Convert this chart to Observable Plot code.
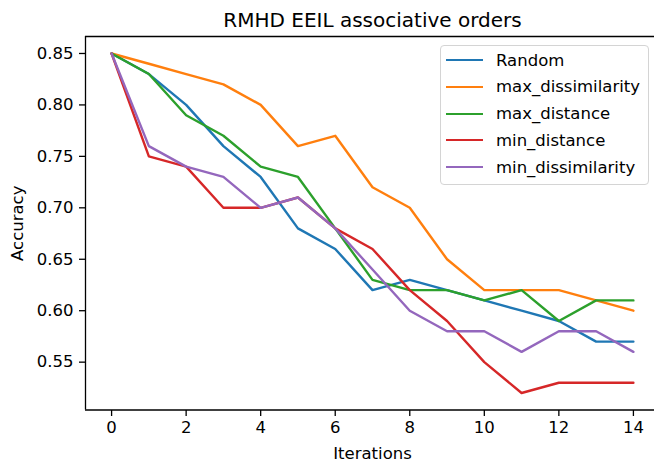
<!DOCTYPE html>
<html>
<head>
<meta charset="utf-8">
<script src="https://cdn.jsdelivr.net/npm/d3@7"></script>
<script src="https://cdn.jsdelivr.net/npm/@observablehq/plot@0.6"></script>
<style>
  html, body { margin: 0; padding: 0; background: #fff; }
  #wrap { position: relative; width: 654px; height: 466px; overflow: hidden; font-family: "DejaVu Sans", sans-serif; }
  #legend { position: absolute; left: 440px; top: 45px; width: 209px; height: 140px; box-sizing: border-box;
    border: 1px solid #d4d4d4; border-radius: 4px; background: rgba(255,255,255,0.85); }
  .row { position: absolute; left: 0; height: 22px; display: flex; align-items: center; }
  .sw { width: 37px; height: 0; border-top: 2.4px solid; margin-left: 5px; margin-right: 13px; }
  .lab { font-size: 16.5px; color: #000; white-space: nowrap; }
</style>
</head>
<body>
<div id="wrap"><div id="legend"></div></div>
<script>
const title = "RMHD EEIL associative orders";
const xLabel = "Iterations";
const yLabel = "Accuracy";
const iterations = [0,1,2,3,4,5,6,7,8,9,10,11,12,13,14];
const seriesNames = ["Random", "max_dissimilarity", "max_distance", "min_distance", "min_dissimilarity"];
const seriesColors = ["#1f77b4", "#ff7f0e", "#2ca02c", "#d62728", "#9467bd"];
const random = [0.85, 0.83, 0.80, 0.76, 0.73, 0.68, 0.66, 0.62, 0.63, 0.62, 0.61, 0.60, 0.59, 0.57, 0.57];
const maxDissimilarity = [0.85, 0.84, 0.83, 0.82, 0.80, 0.76, 0.77, 0.72, 0.70, 0.65, 0.62, 0.62, 0.62, 0.61, 0.60];
const maxDistance = [0.85, 0.83, 0.79, 0.77, 0.74, 0.73, 0.68, 0.63, 0.62, 0.62, 0.61, 0.62, 0.59, 0.61, 0.61];
const minDistance = [0.85, 0.75, 0.74, 0.70, 0.70, 0.71, 0.68, 0.66, 0.62, 0.59, 0.55, 0.52, 0.53, 0.53, 0.53];
const minDissimilarity = [0.85, 0.76, 0.74, 0.73, 0.70, 0.71, 0.68, 0.64, 0.60, 0.58, 0.58, 0.56, 0.58, 0.58, 0.56];
const xTicks = [0, 2, 4, 6, 8, 10, 12, 14];
const yTicks = [0.55, 0.60, 0.65, 0.70, 0.75, 0.80, 0.85];

const allSeries = [random, maxDissimilarity, maxDistance, minDistance, minDissimilarity];
const data = [];
allSeries.forEach((vals, si) => vals.forEach((v, i) => data.push({series: seriesNames[si], x: iterations[i], y: v})));

const xMin = d3.min(iterations), xMax = d3.max(iterations);
const yMin = d3.min(data, d => d.y), yMax = d3.max(data, d => d.y);
const xPad = (xMax - xMin) * 0.05, yPad = (yMax - yMin) * 0.05;
const xDom = [xMin - xPad, xMax + xPad];
const yDom = [yMin - yPad, yMax + yPad];

const chart = Plot.plot({
  width: 654,
  height: 466,
  marginLeft: 85,
  marginRight: 0,
  marginTop: 36,
  marginBottom: 56,
  style: {fontFamily: "DejaVu Sans, sans-serif", fontSize: "16.5px", color: "#000", background: "#fff", overflow: "hidden"},
  x: {domain: xDom, range: [85, 659]},
  y: {domain: yDom, range: [409.5, 36]},
  color: {domain: seriesNames, range: seriesColors},
  marks: [
    Plot.lineY(data, {x: "x", y: "y", stroke: "series", strokeWidth: 2.4, z: "series"}),
    Plot.ruleX([xDom[0]], {y1: yDom[0], y2: yDom[1], stroke: "#000", strokeWidth: 1.3}),
    Plot.ruleY([yDom[0]], {x1: xDom[0], x2: xDom[1], stroke: "#000", strokeWidth: 1.3}),
    Plot.ruleY([yDom[1]], {x1: xDom[0], x2: xDom[1], stroke: "#000", strokeWidth: 1.3}),
    Plot.axisX({ticks: xTicks, tickSize: 6, tickPadding: 5, label: null, fontSize: 16.5, stroke: "#000", strokeWidth: 1.3, strokeOpacity: 1}),
    Plot.axisY({ticks: yTicks, tickSize: 6, tickPadding: 6, tickFormat: ".2f", label: null, fontSize: 16.5, stroke: "#000", strokeWidth: 1.3, strokeOpacity: 1}),
    Plot.text([title], {x: (xDom[0] + xDom[1]) / 2, y: yDom[1], text: d => d, dy: -10, fontSize: 20, lineAnchor: "bottom", fill: "#000"}),
    Plot.text([xLabel], {x: (xDom[0] + xDom[1]) / 2, y: yDom[0], text: d => d, dy: 44, fontSize: 16.5, fill: "#000"}),
    Plot.text([yLabel], {x: xDom[0], y: (yDom[0] + yDom[1]) / 2, text: d => d, dx: -68, rotate: -90, fontSize: 16.5, fill: "#000"})
  ]
});
const wrap = document.getElementById("wrap");
wrap.insertBefore(chart, wrap.firstChild);

const legend = document.getElementById("legend");
seriesNames.forEach((name, i) => {
  const row = document.createElement("div");
  row.className = "row";
  row.style.top = (3 + i * 26.8) + "px";
  const sw = document.createElement("div");
  sw.className = "sw";
  sw.style.borderTopColor = seriesColors[i];
  const lab = document.createElement("span");
  lab.className = "lab";
  lab.textContent = name;
  row.appendChild(sw);
  row.appendChild(lab);
  legend.appendChild(row);
});
</script>
</body>
</html>
